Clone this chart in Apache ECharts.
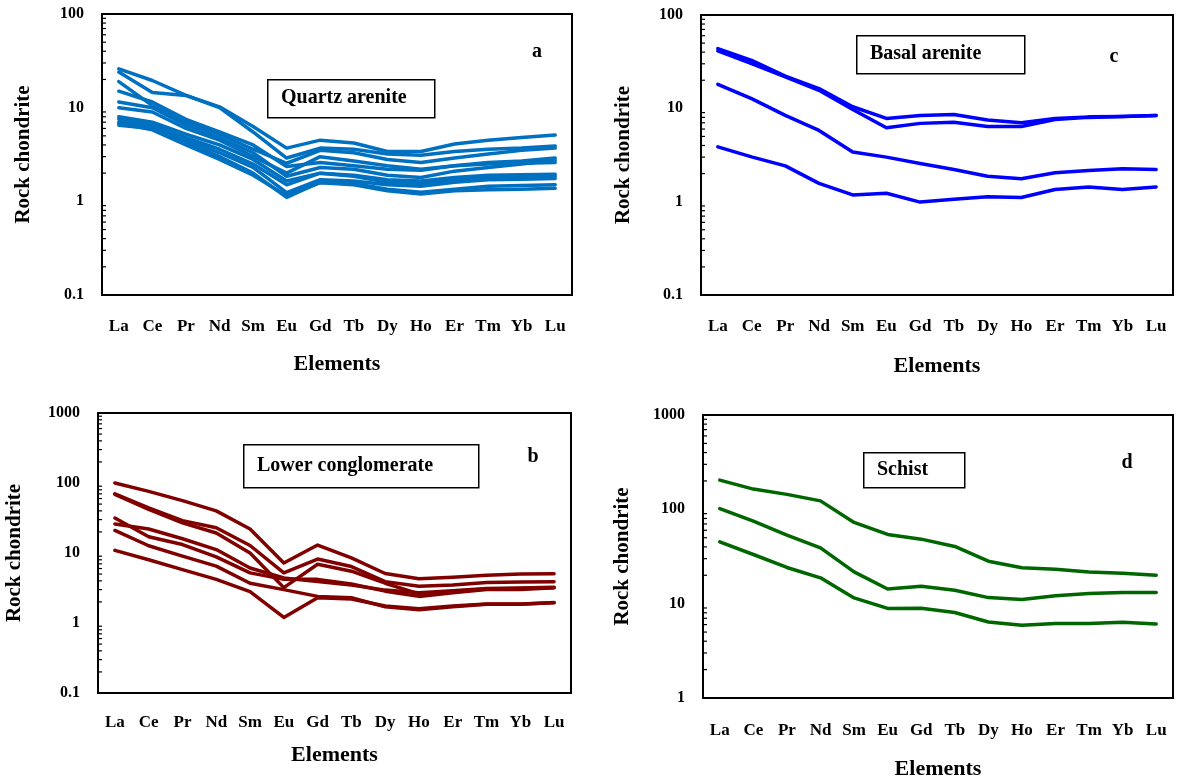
<!DOCTYPE html>
<html>
<head>
<meta charset="utf-8">
<script src="https://cdn.jsdelivr.net/npm/echarts@6/dist/echarts.min.js"></script>
<style>
  html, body { margin: 0; padding: 0; background: #fff; }
  #container { width: 1183px; height: 781px; }
</style>
</head>
<body>
<div id="container"></div>
<script>
// REE elements on the x axis
const elements = ['La', 'Ce', 'Pr', 'Nd', 'Sm', 'Eu', 'Gd', 'Tb', 'Dy', 'Ho', 'Er', 'Tm', 'Yb', 'Lu']

// a - quartz arenite samples
const quartzArenite = [
  [26, 19.5, 13.5, 10.2, 6.3, 3.7, 4.5, 4.2, 3.4, 3.4, 4.1, 4.5, 4.8, 5.1],
  [24, 14.5, 13.5, 10, 5.5, 2.9, 3.7, 3.6, 3.2, 3.1, 3.4, 3.6, 3.7, 3.9],
  [19, 10.5, 7, 5.2, 3.6, 2.55, 3.5, 3.3, 2.8, 2.6, 2.9, 3.2, 3.5, 3.7],
  [15, 11.5, 7.5, 5.5, 4.0, 2.35, 2.6, 2.4, 2.2, 2.15, 2.4, 2.6, 2.7, 2.9],
  [11.5, 10, 6.5, 4.8, 3.3, 1.85, 2.3, 2.2, 1.9, 1.8, 2.1, 2.3, 2.5, 2.75],
  [10, 9, 6, 4.5, 3, 2.0, 3.0, 2.7, 2.4, 2.2, 2.4, 2.5, 2.55, 2.6],
  [8, 7, 5.2, 4, 2.8, 1.65, 2.0, 1.9, 1.7, 1.65, 1.8, 1.9, 1.92, 1.95],
  [7.5, 6.5, 4.8, 3.6, 2.5, 1.5, 2.0, 1.85, 1.6, 1.55, 1.7, 1.8, 1.82, 1.85],
  [7, 6.2, 4.5, 3.3, 2.3, 1.24, 1.7, 1.65, 1.5, 1.45, 1.6, 1.7, 1.72, 1.75],
  [6.5, 6, 4.2, 3.0, 2.0, 1.1, 1.6, 1.55, 1.35, 1.25, 1.35, 1.45, 1.48, 1.5],
  [6.8, 5.8, 4.0, 2.8, 1.9, 1.15, 1.58, 1.5, 1.3, 1.2, 1.3, 1.33, 1.35, 1.38]
]

// b - lower conglomerate samples
const lowerConglomerate = [
  [100, 76, 56, 40, 22, 7.2, 13, 8.5, 5.1, 4.3, 4.5, 4.8, 5.0, 5.05],
  [70, 44, 29, 23, 12.8, 5.2, 8.2, 6.4, 3.9, 3.35, 3.5, 3.8, 3.85, 3.9],
  [69, 42, 27, 19.3, 10, 3.2, 6.9, 5.5, 3.7, 2.6, 2.85, 3.05, 3.1, 3.2],
  [31.6, 17.1, 13.2, 8.8, 5.2, 4.2, 4.2, 3.6, 2.85, 2.4, 2.7, 3.0, 3.0, 3.2],
  [26, 22, 16, 11.2, 6.1, 4.4, 3.9, 3.5, 2.95, 2.7, 2.9, 3.1, 3.15, 3.25],
  [21, 12.7, 9, 6.5, 3.7, 3.0, 2.4, 2.3, 1.7, 1.55, 1.7, 1.85, 1.85, 1.97],
  [10.9, 8.0, 5.8, 4.2, 2.8, 1.2, 2.3, 2.2, 1.75, 1.6, 1.75, 1.87, 1.87, 1.95]
]

// c - basal arenite samples
const basalArenite = [
  [43.6, 32.7, 22.1, 16.3, 10.4, 7.8, 8.4, 8.6, 7.5, 7.0, 7.8, 8.1, 8.2, 8.4],
  [41.2, 30.2, 21.7, 15.6, 9.7, 6.2, 6.9, 7.1, 6.4, 6.4, 7.6, 8.0, 8.2, 8.4],
  [18.1, 12.7, 8.4, 5.8, 3.4, 3.0, 2.56, 2.21, 1.87, 1.76, 2.04, 2.16, 2.25, 2.21],
  [3.87, 3.02, 2.42, 1.57, 1.18, 1.23, 0.99, 1.06, 1.13, 1.11, 1.35, 1.44, 1.35, 1.44]
]

// d - schist samples
const schist = [
  [204, 164, 144, 123, 72.6, 54.2, 48.3, 40.4, 28.2, 24.0, 23.2, 21.7, 21.0, 20.0],
  [102, 75, 53.3, 39.1, 21.7, 14.3, 15.3, 13.9, 11.6, 11.1, 12.1, 12.8, 13.1, 13.1],
  [45.3, 33.2, 24.2, 18.8, 11.5, 8.9, 8.95, 8.05, 6.4, 5.9, 6.15, 6.15, 6.35, 6.1]
]

const FONT = '"Liberation Serif", "Times New Roman", serif'

// panel layout: grid rect, y range, colour, data, label box
const panels = [
  { rows: quartzArenite, color: '#0070C0', min: 0.1, max: 100,
    grid: { left: 102, top: 14, width: 470, height: 281 }, labelGap: 23, nameGap: 58, yNameGap: 68,
    box: { x: 267, y: 79, w: 167, h: 38, text: 'Quartz arenite' }, letter: { x: 537, y: 52, text: 'a' } },
  { rows: basalArenite, color: '#0000FF', min: 0.1, max: 100,
    grid: { left: 701, top: 15, width: 472, height: 280 }, labelGap: 23, nameGap: 60, yNameGap: 67,
    box: { x: 856, y: 35, w: 168, h: 38, text: 'Basal arenite' }, letter: { x: 1114, y: 57, text: 'c' } },
  { rows: lowerConglomerate, color: '#800000', min: 0.1, max: 1000,
    grid: { left: 98, top: 413, width: 473, height: 280 }, labelGap: 21, nameGap: 51, yNameGap: 73,
    box: { x: 243, y: 444, w: 235, h: 43, text: 'Lower conglomerate' }, letter: { x: 533, y: 457, text: 'b' } },
  { rows: schist, color: '#006600', min: 1, max: 1000,
    grid: { left: 703, top: 415, width: 470, height: 283 }, labelGap: 24, nameGap: 60, yNameGap: 70,
    box: { x: 863, y: 452, w: 101, h: 35, text: 'Schist' }, letter: { x: 1127, y: 463, text: 'd' } }
]

// minor tick values 2..9 x each decade inside the axis range
function minorTicks(min, max) {
  const out = []
  for (let d = min; d < max; d *= 10) {
    for (let k = 2; k <= 9; k++) out.push([0, +(k * d).toPrecision(3)])
  }
  return out
}

let myChart = echarts.init(document.getElementById('container'), null, { renderer: 'canvas' })

const grid = []
const xAxis = []
const yAxis = []
const series = []
const graphic = []

panels.forEach((p, i) => {
  grid.push(Object.assign({ show: true, borderColor: '#000', borderWidth: 2, backgroundColor: 'transparent' }, p.grid))
  xAxis.push({
    type: 'category',
    gridIndex: i,
    data: elements,
    boundaryGap: true,
    name: 'Elements',
    nameLocation: 'middle',
    nameGap: p.nameGap,
    nameTextStyle: { fontFamily: FONT, fontWeight: 'bold', fontSize: 22, color: '#000' },
    axisLine: { lineStyle: { color: '#000', width: 2 } },
    axisTick: { alignWithLabel: true, inside: true, length: 5, lineStyle: { color: '#000', width: 1.2 } },
    axisLabel: { fontFamily: FONT, fontWeight: 'bold', fontSize: 17, color: '#000', margin: p.labelGap },
    splitLine: { show: false }
  })
  yAxis.push({
    type: 'log',
    logBase: 10,
    gridIndex: i,
    min: p.min,
    max: p.max,
    name: 'Rock chondrite',
    nameLocation: 'middle',
    nameGap: p.yNameGap,
    nameTextStyle: { fontFamily: FONT, fontWeight: 'bold', fontSize: 21, color: '#000' },
    axisLine: { show: true, lineStyle: { color: '#000', width: 2 } },
    axisTick: { inside: true, length: 5, lineStyle: { color: '#000', width: 1.2 } },
    axisLabel: {
      fontFamily: FONT, fontWeight: 'bold', fontSize: 16, color: '#000', margin: 18,
      formatter: v => String(+v.toPrecision(3))
    },
    splitLine: { show: false }
  })
  p.rows.forEach(row => {
    series.push({
      type: 'line',
      xAxisIndex: i,
      yAxisIndex: i,
      data: row,
      showSymbol: false,
      symbol: 'none',
      silent: true,
      lineStyle: { color: p.color, width: 3.5, cap: 'round', join: 'round' }
    })
  })
  // minor ticks of the log axis
  series.push({
    type: 'custom',
    xAxisIndex: i,
    yAxisIndex: i,
    silent: true,
    clip: false,
    data: minorTicks(p.min, p.max),
    renderItem: (params, api) => {
      const y = api.coord([0, api.value(1)])[1]
      const x0 = params.coordSys.x
      return {
        type: 'line',
        shape: { x1: x0, y1: y, x2: x0 + 4, y2: y },
        style: { stroke: '#000', lineWidth: 1.2 }
      }
    }
  })
  graphic.push({
    type: 'rect',
    left: p.box.x, top: p.box.y,
    shape: { width: p.box.w, height: p.box.h },
    style: { fill: '#fff', stroke: '#000', lineWidth: 1.5 },
    z: 10
  })
  graphic.push({
    type: 'text',
    x: p.box.x + 14, y: p.box.y + p.box.h / 2,
    style: { text: p.box.text, font: 'bold 20px ' + FONT, fill: '#000', textVerticalAlign: 'middle', verticalAlign: 'middle' },
    z: 11
  })
  graphic.push({
    type: 'text',
    x: p.letter.x, y: p.letter.y,
    style: { text: p.letter.text, font: 'bold 20px ' + FONT, fill: '#000', align: 'center', verticalAlign: 'middle', textAlign: 'center', textVerticalAlign: 'middle' },
    z: 11
  })
})

let option = {
  animation: false,
  backgroundColor: '#fff',
  grid,
  xAxis,
  yAxis,
  series,
  graphic
}
myChart.setOption(option)
</script>
</body>
</html>
